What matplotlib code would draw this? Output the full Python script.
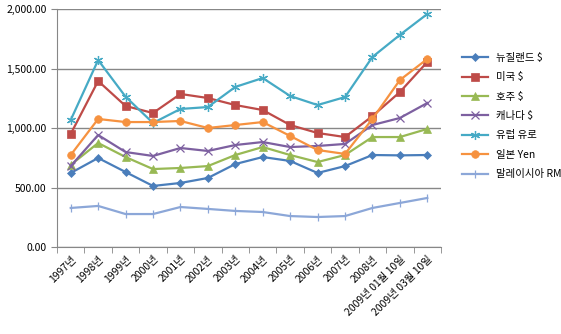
import numpy as np
import matplotlib.pyplot as plt
from matplotlib.ticker import FuncFormatter, FixedLocator

plt.rcParams['font.family'] = ['Noto Sans CJK KR', 'DejaVu Sans']

years = ['1997년', '1998년', '1999년', '2000년', '2001년', '2002년', '2003년',
         '2004년', '2005년', '2006년', '2007년', '2008년',
         '2009년 01월 10일', '2009년 03월 10일']

nz = [622, 748, 630, 513, 538, 580, 697, 756, 723, 622, 680, 773, 770, 773]
us = [950, 1395, 1185, 1126, 1286, 1252, 1193, 1151, 1025, 958, 924, 1100, 1302, 1555]
au = [690, 874, 756, 655, 664, 680, 773, 840, 773, 714, 773, 924, 924, 992]
ca = [680, 941, 798, 765, 832, 807, 857, 882, 840, 849, 866, 1025, 1084, 1210]
eu = [1067, 1571, 1263, 1042, 1160, 1176, 1345, 1420, 1269, 1193, 1260, 1597, 1782, 1958]
jp = [773, 1076, 1050, 1050, 1059, 1000, 1025, 1050, 933, 815, 782, 1076, 1403, 1580]
my = [328, 345, 277, 277, 336, 320, 303, 294, 260, 252, 260, 328, 370, 412]

series = [
    ('뉴질랜드 $', nz, '#4A7EBB', 'D', 4.5),
    ('미국 $', us, '#BE4B48', 's', 5.5),
    ('호주 $', au, '#98B954', '^', 5.5),
    ('캐나다 $', ca, '#7D60A0', 'x', 5.5),
    ('유럽 유로', eu, '#46AAC5', (6, 2, 0), 6.5),
    ('일본 Yen', jp, '#F69240', 'o', 5.5),
    ('말레이시아 RM', my, '#8CA7D8', '|', 6),
]

fig = plt.figure(figsize=(5.61, 3.34), dpi=100)
ax = fig.add_axes([57 / 561, 87 / 334, 384 / 561, 238 / 334])

x = np.arange(len(years))
for name, vals, col, mk, ms in series:
    thin = mk in ('x', '|', (6, 2, 0))
    ax.plot(x, vals, color=col, marker=mk, markersize=ms, linewidth=1.6,
            markeredgecolor=col, markeredgewidth=0.9 if thin else 0.5,
            label=name)

ax.set_xlim(-0.5, len(years) - 0.5)
ax.set_ylim(0, 2000)
ax.set_yticks([0, 500, 1000, 1500, 2000])
ax.yaxis.set_major_formatter(FuncFormatter(lambda v, p: f'{v:,.2f}'))
ax.grid(axis='y', color='#878787', linewidth=1)
ax.set_axisbelow(True)

ax.xaxis.set_major_locator(FixedLocator(x))
ax.set_xticklabels(years, rotation=45, ha='right', rotation_mode='anchor', fontsize=7.5)
ax.xaxis.set_minor_locator(FixedLocator(np.arange(-0.5, len(years), 1)))
ax.tick_params(axis='x', which='major', length=0, pad=5)
ax.tick_params(axis='x', which='minor', length=4, color='#878787')
ax.tick_params(axis='y', length=4, color='#878787', labelsize=7.5)

for s in ['top', 'right']:
    ax.spines[s].set_visible(False)
for s in ['left', 'bottom']:
    ax.spines[s].set_color('#878787')

ax.legend(loc='center left', bbox_to_anchor=(1.03, 0.55), frameon=False,
          fontsize=7.5, handlelength=2.5, labelspacing=0.9)

fig.savefig('out.png', dpi=100)
